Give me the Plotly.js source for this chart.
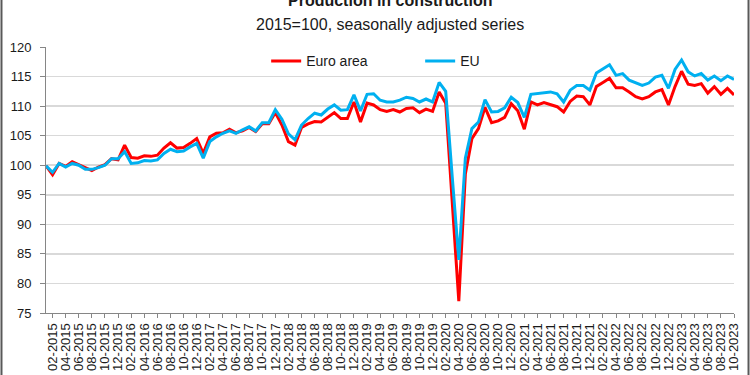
<!DOCTYPE html>
<html><head><meta charset="utf-8">
<script src="https://cdn.plot.ly/plotly-3.0.1.min.js"></script>
<style>html,body{margin:0;padding:0;background:#fff}</style>
</head><body><div id="chart" style="width:750px;height:375px"></div>
<script>
// categories: monthly, 01-2015 .. 10-2023
const firstYear = 2015, monthCount = 106;
const months = [];
for (let k = 0; k < monthCount; k++) {
  const m = k % 12 + 1, y = firstYear + Math.floor(k / 12);
  months.push(String(m).padStart(2, '0') + '-' + y);
}
const tickLabels = months.filter((_, k) => k % 2 === 1); // 02-2015, 04-2015, ...
const yTicks = [75, 80, 85, 90, 95, 100, 105, 110, 115, 120];

const euroArea = [
  99.9, 98.4, 100.3, 99.8, 100.6, 100.1, 99.5, 99.1, 99.7, 100.1, 101.1, 100.9,
  103.4, 101.3, 101.2, 101.6, 101.5, 101.7, 102.9, 103.8, 102.9, 103.0, 103.7, 104.5,
  102.0, 104.8, 105.4, 105.5, 106.1, 105.5, 105.8, 106.4, 105.7, 107.0, 107.0, 108.9,
  106.8, 104.0, 103.4, 106.4, 107.0, 107.4, 107.3, 108.1, 108.9, 107.9, 107.9, 110.7,
  107.3, 110.5, 110.2, 109.4, 109.1, 109.4, 109.0, 109.6, 109.7, 108.9, 109.5, 109.1,
  112.4, 110.5, 94.5, 77.0, 98.5, 104.5, 106.2, 109.8, 107.2, 107.5, 108.1, 110.4,
  109.2, 106.1, 110.7, 110.2, 110.6, 110.2, 109.9, 109.0, 110.8, 111.7, 111.6, 110.2,
  113.3, 114.0, 114.7, 113.1, 113.1, 112.4, 111.6, 111.2, 111.6, 112.4, 112.8, 110.2,
  113.3, 115.9, 113.7, 113.5, 113.8, 112.2, 113.3, 112.0, 113.0, 111.9
];
const eu = [
  99.9, 98.8, 100.3, 99.7, 100.3, 100.0, 99.3, 99.3, 99.6, 100.0, 101.1, 101.1,
  102.3, 100.3, 100.4, 100.8, 100.7, 100.9, 102.0, 102.7, 102.3, 102.4, 103.1, 103.7,
  101.2, 104.0, 104.8, 105.4, 105.8, 105.4, 106.0, 106.5, 105.8, 107.2, 107.2, 109.4,
  107.8, 105.3, 104.3, 106.8, 107.9, 108.8, 108.5, 109.5, 110.2, 109.3, 109.4, 111.9,
  109.2, 112.0, 112.1, 111.0, 110.7, 110.7, 111.0, 111.5, 111.3, 110.7, 111.2, 110.7,
  114.0, 112.5, 98.0, 84.0, 101.2, 106.2, 107.3, 111.1, 109.0, 109.1, 109.7, 111.5,
  110.6, 108.1, 112.0, 112.1, 112.3, 112.4, 112.1, 110.7, 112.7, 113.5, 113.5, 112.7,
  115.6, 116.3, 117.0, 115.2, 115.5, 114.4, 113.9, 113.5, 113.9, 114.9, 115.2, 113.0,
  116.2, 117.8, 115.8, 115.1, 115.5, 114.4, 115.1, 114.3, 115.1, 114.5
];

const traces = [
  {x: months, y: euroArea, type: 'scatter', mode: 'lines', name: 'Euro area',
   line: {color: '#FF0000', width: 3}},
  {x: months, y: eu, type: 'scatter', mode: 'lines', name: 'EU',
   line: {color: '#00B0F0', width: 3}}
];

const layout = {
  width: 750, height: 375,
  margin: {l: 46, r: 16, t: 47, b: 62, pad: 0},
  paper_bgcolor: '#ffffff', plot_bgcolor: '#ffffff',
  font: {family: '"Liberation Sans", Arial, sans-serif', color: '#1a1a1a'},
  showlegend: true,
  legend: {orientation: 'h', x: 0.32, y: 0.946, xanchor: 'left', yanchor: 'middle',
           font: {size: 14, color: '#1a1a1a'}, bgcolor: 'rgba(0,0,0,0)',
           entrywidth: 109, entrywidthmode: 'pixels', traceorder: 'normal'},
  xaxis: {type: 'category', range: [0, monthCount - 1], tickmode: 'array',
          tickvals: tickLabels, ticktext: tickLabels, tickangle: -90,
          tickfont: {size: 13, color: '#1a1a1a'}, showline: true, linecolor: '#868686',
          ticks: 'outside', ticklen: 4, tickcolor: '#868686', showgrid: false,
          zeroline: false, fixedrange: true, automargin: false},
  yaxis: {range: [75, 120], tickmode: 'array', tickvals: yTicks, showgrid: true,
          gridcolor: '#d9d9d9', gridwidth: 1.5, showline: true, linecolor: '#868686',
          ticks: 'outside', ticklen: 5, tickcolor: '#868686',
          tickfont: {size: 13, color: '#1a1a1a'}, zeroline: false,
          ticklabelstandoff: 6, fixedrange: true, automargin: false},
  annotations: [
    {text: '<b>Production in construction</b>', xref: 'paper', yref: 'paper',
     x: 0.5, y: 1.173, xanchor: 'center', yanchor: 'middle', showarrow: false,
     font: {size: 16, color: '#1a1a1a'}},
    {text: '2015=100, seasonally adjusted series', xref: 'paper', yref: 'paper',
     x: 0.5, y: 1.083, xanchor: 'center', yanchor: 'middle', showarrow: false,
     font: {size: 16, color: '#1a1a1a'}}
  ],
  shapes: [
    {type: 'rect', xref: 'paper', yref: 'paper', x0: -0.0647, x1: 1.0211, y0: -0.4, y1: 1.4,
     line: {color: '#595959', width: 2}, fillcolor: 'rgba(0,0,0,0)', layer: 'above'}
  ]
};

Plotly.newPlot('chart', traces, layout, {displayModeBar: false, staticPlot: true});
</script>
</body></html>
